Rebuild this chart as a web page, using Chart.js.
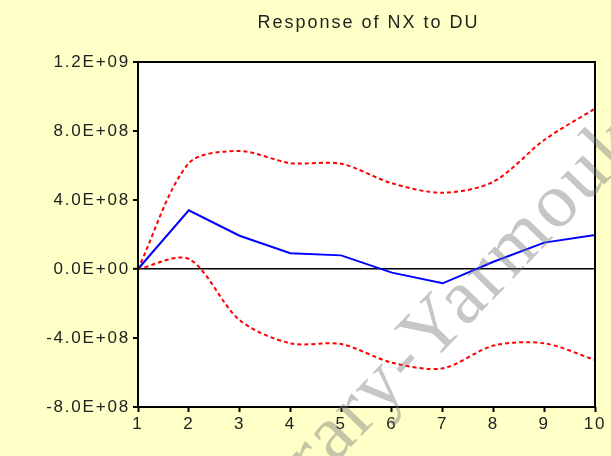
<!DOCTYPE html>
<html>
<head>
<meta charset="utf-8">
<script src="https://cdn.jsdelivr.net/npm/chart.js@4/dist/chart.umd.min.js"></script>
<style>
  html, body { margin: 0; padding: 0; background: #ffffc8; }
  #wrap { width: 611px; height: 456px; }
</style>
</head>
<body>
<div id="wrap"><canvas id="irf"></canvas></div>
<script>
// periods after the shock
var periodos = ['1', '2', '3', '4', '5', '6', '7', '8', '9', '10'];
// impulse response of NX to DU and +/- 2 s.e. bands
var resposta = [0, 3.40e8, 1.93e8, 0.91e8, 0.79e8, -0.21e8, -0.83e8, 0.42e8, 1.53e8, 1.97e8];
var banda_sup = [0, 6.13e8, 6.84e8, 6.14e8, 6.10e8, 4.97e8, 4.42e8, 5.06e8, 7.48e8, 9.30e8];
var banda_inf = [0, 0.58e8, -2.96e8, -4.31e8, -4.35e8, -5.43e8, -5.76e8, -4.44e8, -4.31e8, -5.27e8];
var titulo = 'Response of NX to DU';
var marca = ['Library-', 'Yarmouk'];

function formata_e(v) {
    if (Math.abs(v) < 1) return '0.0E+00';
    var e = Math.floor(Math.log10(Math.abs(v)) + 1e-9);
    var m = v / Math.pow(10, e);
    return m.toFixed(1) + 'E+' + String(e).padStart(2, '0');
}

const fundo = {
    id: 'fundo',
    beforeDraw(chart) {
        const ctx = chart.ctx;
        const a = chart.chartArea;
        ctx.letterSpacing = '1.8px';
        ctx.save();
        ctx.fillStyle = '#ffffc8';
        ctx.fillRect(0, 0, chart.width, chart.height);
        ctx.fillStyle = '#ffffff';
        ctx.fillRect(a.left, a.top, a.right - a.left, a.bottom - a.top);
        ctx.restore();
    },
    afterDraw(chart) {
        const ctx = chart.ctx;
        const a = chart.chartArea;
        ctx.save();
        ctx.strokeStyle = '#000000';
        ctx.lineWidth = 2;
        ctx.strokeRect(a.left, a.top, a.right - a.left, a.bottom - a.top);
        // title
        ctx.fillStyle = '#222222';
        ctx.font = '18px "Liberation Sans", Arial, sans-serif';
        ctx.letterSpacing = '2px';
        ctx.textAlign = 'center';
        ctx.textBaseline = 'middle';
        ctx.fillText(titulo, (a.left + a.right) / 2 + 2, 23);
        // watermark
        ctx.letterSpacing = '3px';
        ctx.translate(430, 365);
        ctx.rotate(-46 * Math.PI / 180);
        ctx.font = '78px "Liberation Serif", "Times New Roman", serif';
        ctx.fillStyle = 'rgba(120,120,120,0.42)';
        ctx.textBaseline = 'alphabetic';
        ctx.textAlign = 'right';
        ctx.fillText(marca[0], 0, 0);
        ctx.textAlign = 'left';
        ctx.fillText(marca[1], 0, 0);
        ctx.restore();
    }
};

const ctx = document.getElementById('irf').getContext('2d');
const grafico = new Chart(ctx, {
    type: 'line',
    data: {
        labels: periodos,
        datasets: [{
            label: 'response',
            data: resposta,
            borderColor: '#0000ff',
            borderWidth: 2,
            pointRadius: 0,
            tension: 0
        }, {
            label: 'upper',
            data: banda_sup,
            borderColor: '#ff0000',
            borderWidth: 2,
            borderDash: [4, 3],
            pointRadius: 0,
            tension: 0.3
        }, {
            label: 'lower',
            data: banda_inf,
            borderColor: '#ff0000',
            borderWidth: 2,
            borderDash: [4, 3],
            pointRadius: 0,
            tension: 0.3
        }]
    },
    options: {
        responsive: true,
        maintainAspectRatio: false,
        animation: false,
        layout: { padding: { top: 62, right: 16, bottom: 0, left: 0 } },
        plugins: {
            legend: { display: false },
            title: { display: false },
            tooltip: { enabled: false }
        },
        scales: {
            x: {
                offset: false,
                border: { display: false },
                grid: {
                    drawOnChartArea: false,
                    drawTicks: true,
                    tickLength: 5,
                    tickColor: '#000000',
                    tickWidth: 2
                },
                ticks: {
                    color: '#222222',
                    font: { family: '"Liberation Sans", Arial, sans-serif', size: 17 },
                    padding: 2,
                    maxRotation: 0,
                    autoSkip: false
                },
                afterFit(scale) { scale.height = 49; }
            },
            y: {
                min: -8e8,
                max: 1.2e9,
                border: { display: false },
                grid: {
                    drawTicks: true,
                    tickLength: 5,
                    tickColor: '#000000',
                    tickWidth: 2,
                    lineWidth: function(c) { return c.tick && c.tick.value === 0 ? 1.6 : 0; },
                    color: function(c) { return c.tick && c.tick.value === 0 ? '#000000' : 'rgba(0,0,0,0)'; }
                },
                ticks: {
                    stepSize: 4e8,
                    color: '#222222',
                    font: { family: '"Liberation Sans", Arial, sans-serif', size: 17 },
                    padding: 3,
                    callback: function(v) { return formata_e(v); }
                },
                afterFit(scale) { scale.width = 138; }
            }
        }
    },
    plugins: [fundo]
});
</script>
</body>
</html>
